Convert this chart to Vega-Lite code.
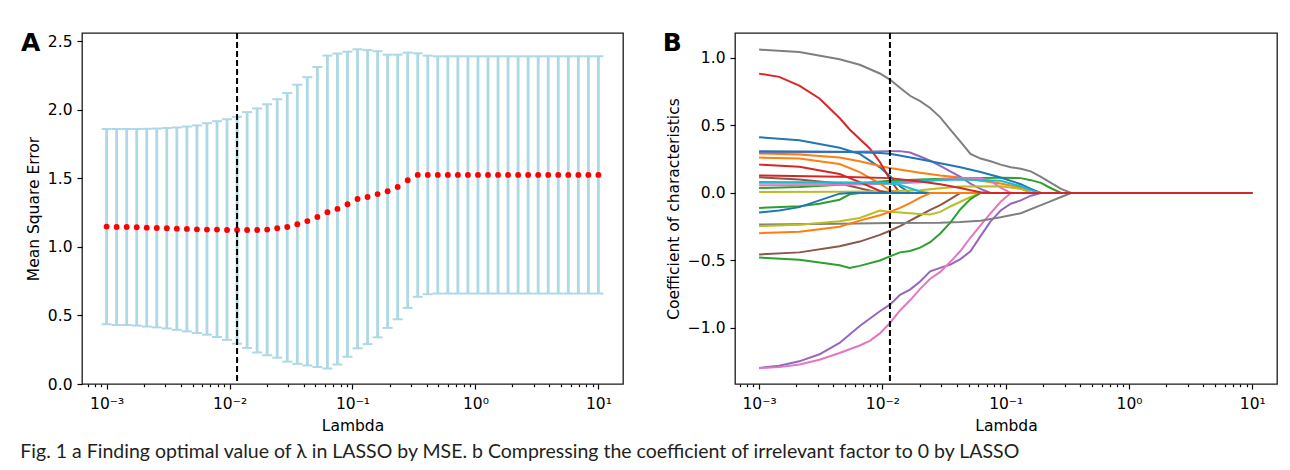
{
  "$schema": "https://vega.github.io/schema/vega-lite/v6.json",
  "background": "white",
  "padding": {"left": 20, "top": 30, "right": 5, "bottom": 5},
  "spacing": 38,
  "title": {"text": "Fig. 1  a Finding optimal value of λ in LASSO by MSE. b Compressing the coefficient of irrelevant factor to 0 by LASSO", "orient": "bottom", "anchor": "start", "frame": "bounds", "font": "Lato", "fontSize": 19.5, "fontWeight": "normal", "color": "#231f20", "offset": 8},
  "datasets": {
    "mse": [
      {"lambda": 0.001, "mse": 1.148, "lo": 0.436, "hi": 1.860},
      {"lambda": 0.0012068, "mse": 1.145, "lo": 0.430, "hi": 1.860},
      {"lambda": 0.0014563, "mse": 1.145, "lo": 0.430, "hi": 1.860},
      {"lambda": 0.0017575, "mse": 1.143, "lo": 0.426, "hi": 1.860},
      {"lambda": 0.002121, "mse": 1.140, "lo": 0.419, "hi": 1.861},
      {"lambda": 0.0025595, "mse": 1.138, "lo": 0.413, "hi": 1.863},
      {"lambda": 0.0030888, "mse": 1.136, "lo": 0.405, "hi": 1.867},
      {"lambda": 0.0037276, "mse": 1.133, "lo": 0.395, "hi": 1.871},
      {"lambda": 0.0044984, "mse": 1.131, "lo": 0.384, "hi": 1.878},
      {"lambda": 0.0054287, "mse": 1.128, "lo": 0.372, "hi": 1.886},
      {"lambda": 0.0065513, "mse": 1.126, "lo": 0.360, "hi": 1.902},
      {"lambda": 0.007906, "mse": 1.126, "lo": 0.343, "hi": 1.917},
      {"lambda": 0.009541, "mse": 1.123, "lo": 0.322, "hi": 1.931},
      {"lambda": 0.011514, "mse": 1.123, "lo": 0.294, "hi": 1.949},
      {"lambda": 0.013895, "mse": 1.123, "lo": 0.263, "hi": 1.983},
      {"lambda": 0.016768, "mse": 1.123, "lo": 0.230, "hi": 2.010},
      {"lambda": 0.020236, "mse": 1.126, "lo": 0.210, "hi": 2.040},
      {"lambda": 0.02442, "mse": 1.136, "lo": 0.192, "hi": 2.077},
      {"lambda": 0.02947, "mse": 1.145, "lo": 0.163, "hi": 2.123},
      {"lambda": 0.035565, "mse": 1.165, "lo": 0.147, "hi": 2.183},
      {"lambda": 0.042919, "mse": 1.188, "lo": 0.135, "hi": 2.238},
      {"lambda": 0.051795, "mse": 1.218, "lo": 0.124, "hi": 2.312},
      {"lambda": 0.062506, "mse": 1.253, "lo": 0.113, "hi": 2.395},
      {"lambda": 0.075431, "mse": 1.277, "lo": 0.143, "hi": 2.410},
      {"lambda": 0.09103, "mse": 1.311, "lo": 0.199, "hi": 2.424},
      {"lambda": 0.10985, "mse": 1.349, "lo": 0.260, "hi": 2.441},
      {"lambda": 0.13257, "mse": 1.364, "lo": 0.291, "hi": 2.435},
      {"lambda": 0.15999, "mse": 1.385, "lo": 0.340, "hi": 2.427},
      {"lambda": 0.19307, "mse": 1.406, "lo": 0.409, "hi": 2.402},
      {"lambda": 0.233, "mse": 1.437, "lo": 0.472, "hi": 2.402},
      {"lambda": 0.28118, "mse": 1.486, "lo": 0.555, "hi": 2.417},
      {"lambda": 0.33932, "mse": 1.525, "lo": 0.636, "hi": 2.412},
      {"lambda": 0.40949, "mse": 1.525, "lo": 0.655, "hi": 2.395},
      {"lambda": 0.49417, "mse": 1.525, "lo": 0.660, "hi": 2.390},
      {"lambda": 0.59636, "mse": 1.525, "lo": 0.660, "hi": 2.390},
      {"lambda": 0.71969, "mse": 1.525, "lo": 0.660, "hi": 2.390},
      {"lambda": 0.86851, "mse": 1.525, "lo": 0.660, "hi": 2.390},
      {"lambda": 1.0481, "mse": 1.525, "lo": 0.660, "hi": 2.390},
      {"lambda": 1.2649, "mse": 1.525, "lo": 0.660, "hi": 2.390},
      {"lambda": 1.5264, "mse": 1.525, "lo": 0.660, "hi": 2.390},
      {"lambda": 1.8421, "mse": 1.525, "lo": 0.660, "hi": 2.390},
      {"lambda": 2.223, "mse": 1.525, "lo": 0.660, "hi": 2.390},
      {"lambda": 2.6827, "mse": 1.525, "lo": 0.660, "hi": 2.390},
      {"lambda": 3.2375, "mse": 1.525, "lo": 0.660, "hi": 2.390},
      {"lambda": 3.9069, "mse": 1.525, "lo": 0.660, "hi": 2.390},
      {"lambda": 4.7149, "mse": 1.525, "lo": 0.660, "hi": 2.390},
      {"lambda": 5.6899, "mse": 1.525, "lo": 0.660, "hi": 2.390},
      {"lambda": 6.8665, "mse": 1.525, "lo": 0.660, "hi": 2.390},
      {"lambda": 8.2864, "mse": 1.525, "lo": 0.660, "hi": 2.390},
      {"lambda": 10, "mse": 1.525, "lo": 0.660, "hi": 2.390}
    ],
    "best": [{"lambda": 0.011514}],
    "coef": [
      {"f": "f00", "lambda": 0.001, "c": 0.413}, {"f": "f00", "lambda": 0.002121, "c": 0.39}, {"f": "f00", "lambda": 0.0044984, "c": 0.335}, {"f": "f00", "lambda": 0.0065513, "c": 0.29}, {"f": "f00", "lambda": 0.009541, "c": 0.19}, {"f": "f00", "lambda": 0.011514, "c": 0.125}, {"f": "f00", "lambda": 0.013895, "c": 0.05}, {"f": "f00", "lambda": 0.016768, "c": 0}, {"f": "f00", "lambda": 10, "c": 0},
      {"f": "f01", "lambda": 0.001, "c": 0.292}, {"f": "f01", "lambda": 0.002121, "c": 0.285}, {"f": "f01", "lambda": 0.0044984, "c": 0.262}, {"f": "f01", "lambda": 0.0065513, "c": 0.235}, {"f": "f01", "lambda": 0.009541, "c": 0.2}, {"f": "f01", "lambda": 0.011514, "c": 0.185}, {"f": "f01", "lambda": 0.020236, "c": 0.15}, {"f": "f01", "lambda": 0.02947, "c": 0.13}, {"f": "f01", "lambda": 0.042919, "c": 0.115}, {"f": "f01", "lambda": 0.062506, "c": 0.09}, {"f": "f01", "lambda": 0.09103, "c": 0.07}, {"f": "f01", "lambda": 0.13257, "c": 0.04}, {"f": "f01", "lambda": 0.15999, "c": 0}, {"f": "f01", "lambda": 10, "c": 0},
      {"f": "f02", "lambda": 0.001, "c": 0.037}, {"f": "f02", "lambda": 0.002121, "c": 0.045}, {"f": "f02", "lambda": 0.0044984, "c": 0.06}, {"f": "f02", "lambda": 0.011514, "c": 0.09}, {"f": "f02", "lambda": 0.020236, "c": 0.1}, {"f": "f02", "lambda": 0.042919, "c": 0.11}, {"f": "f02", "lambda": 0.09103, "c": 0.112}, {"f": "f02", "lambda": 0.13257, "c": 0.11}, {"f": "f02", "lambda": 0.15999, "c": 0.095}, {"f": "f02", "lambda": 0.19307, "c": 0.075}, {"f": "f02", "lambda": 0.233, "c": 0.035}, {"f": "f02", "lambda": 0.28118, "c": 0}, {"f": "f02", "lambda": 10, "c": 0},
      {"f": "f03", "lambda": 0.001, "c": 0.884}, {"f": "f03", "lambda": 0.0014563, "c": 0.86}, {"f": "f03", "lambda": 0.002121, "c": 0.795}, {"f": "f03", "lambda": 0.0030888, "c": 0.7}, {"f": "f03", "lambda": 0.0044984, "c": 0.555}, {"f": "f03", "lambda": 0.0054287, "c": 0.47}, {"f": "f03", "lambda": 0.0065513, "c": 0.4}, {"f": "f03", "lambda": 0.007906, "c": 0.33}, {"f": "f03", "lambda": 0.009541, "c": 0.23}, {"f": "f03", "lambda": 0.011514, "c": 0.1}, {"f": "f03", "lambda": 0.013895, "c": 0}, {"f": "f03", "lambda": 10, "c": 0},
      {"f": "f04", "lambda": 0.001, "c": 0.3}, {"f": "f04", "lambda": 0.0044984, "c": 0.303}, {"f": "f04", "lambda": 0.011514, "c": 0.31}, {"f": "f04", "lambda": 0.013895, "c": 0.31}, {"f": "f04", "lambda": 0.016768, "c": 0.3}, {"f": "f04", "lambda": 0.020236, "c": 0.27}, {"f": "f04", "lambda": 0.02442, "c": 0.24}, {"f": "f04", "lambda": 0.02947, "c": 0.2}, {"f": "f04", "lambda": 0.035565, "c": 0.16}, {"f": "f04", "lambda": 0.042919, "c": 0.12}, {"f": "f04", "lambda": 0.051795, "c": 0.07}, {"f": "f04", "lambda": 0.062506, "c": 0.03}, {"f": "f04", "lambda": 0.075431, "c": 0}, {"f": "f04", "lambda": 10, "c": 0},
      {"f": "f05", "lambda": 0.001, "c": 0.116}, {"f": "f05", "lambda": 0.002121, "c": 0.1}, {"f": "f05", "lambda": 0.0044984, "c": 0.07}, {"f": "f05", "lambda": 0.0065513, "c": 0.035}, {"f": "f05", "lambda": 0.009541, "c": 0}, {"f": "f05", "lambda": 10, "c": 0},
      {"f": "f06", "lambda": 0.001, "c": 0.057}, {"f": "f06", "lambda": 0.0044984, "c": 0.06}, {"f": "f06", "lambda": 0.011514, "c": 0.068}, {"f": "f06", "lambda": 0.020236, "c": 0.08}, {"f": "f06", "lambda": 0.02947, "c": 0.1}, {"f": "f06", "lambda": 0.042919, "c": 0.11}, {"f": "f06", "lambda": 0.062506, "c": 0.11}, {"f": "f06", "lambda": 0.075431, "c": 0.09}, {"f": "f06", "lambda": 0.09103, "c": 0.04}, {"f": "f06", "lambda": 0.10985, "c": 0}, {"f": "f06", "lambda": 10, "c": 0},
      {"f": "f07", "lambda": 0.001, "c": 1.062}, {"f": "f07", "lambda": 0.002121, "c": 1.045}, {"f": "f07", "lambda": 0.0044984, "c": 0.99}, {"f": "f07", "lambda": 0.0065513, "c": 0.95}, {"f": "f07", "lambda": 0.009541, "c": 0.885}, {"f": "f07", "lambda": 0.011514, "c": 0.84}, {"f": "f07", "lambda": 0.013895, "c": 0.78}, {"f": "f07", "lambda": 0.016768, "c": 0.72}, {"f": "f07", "lambda": 0.020236, "c": 0.68}, {"f": "f07", "lambda": 0.02442, "c": 0.63}, {"f": "f07", "lambda": 0.02947, "c": 0.56}, {"f": "f07", "lambda": 0.035565, "c": 0.47}, {"f": "f07", "lambda": 0.042919, "c": 0.38}, {"f": "f07", "lambda": 0.051795, "c": 0.29}, {"f": "f07", "lambda": 0.062506, "c": 0.255}, {"f": "f07", "lambda": 0.075431, "c": 0.235}, {"f": "f07", "lambda": 0.09103, "c": 0.21}, {"f": "f07", "lambda": 0.10985, "c": 0.19}, {"f": "f07", "lambda": 0.13257, "c": 0.18}, {"f": "f07", "lambda": 0.15999, "c": 0.16}, {"f": "f07", "lambda": 0.19307, "c": 0.12}, {"f": "f07", "lambda": 0.233, "c": 0.075}, {"f": "f07", "lambda": 0.28118, "c": 0.03}, {"f": "f07", "lambda": 0.33932, "c": 0}, {"f": "f07", "lambda": 10, "c": 0},
      {"f": "f08", "lambda": 0.001, "c": 0.008}, {"f": "f08", "lambda": 0.0044984, "c": 0.01}, {"f": "f08", "lambda": 0.011514, "c": 0.012}, {"f": "f08", "lambda": 0.020236, "c": 0.02}, {"f": "f08", "lambda": 0.02947, "c": 0.035}, {"f": "f08", "lambda": 0.042919, "c": 0.048}, {"f": "f08", "lambda": 0.09103, "c": 0.05}, {"f": "f08", "lambda": 0.13257, "c": 0.03}, {"f": "f08", "lambda": 0.15999, "c": 0}, {"f": "f08", "lambda": 10, "c": 0},
      {"f": "f09", "lambda": 0.001, "c": 0.081}, {"f": "f09", "lambda": 0.0044984, "c": 0.077}, {"f": "f09", "lambda": 0.011514, "c": 0.07}, {"f": "f09", "lambda": 0.013895, "c": 0.06}, {"f": "f09", "lambda": 0.016768, "c": 0.035}, {"f": "f09", "lambda": 0.020236, "c": 0.01}, {"f": "f09", "lambda": 0.02442, "c": 0}, {"f": "f09", "lambda": 10, "c": 0},
      {"f": "f10", "lambda": 0.001, "c": 0.309}, {"f": "f10", "lambda": 0.0044984, "c": 0.305}, {"f": "f10", "lambda": 0.009541, "c": 0.297}, {"f": "f10", "lambda": 0.011514, "c": 0.29}, {"f": "f10", "lambda": 0.020236, "c": 0.25}, {"f": "f10", "lambda": 0.02947, "c": 0.22}, {"f": "f10", "lambda": 0.042919, "c": 0.19}, {"f": "f10", "lambda": 0.062506, "c": 0.155}, {"f": "f10", "lambda": 0.09103, "c": 0.115}, {"f": "f10", "lambda": 0.13257, "c": 0.065}, {"f": "f10", "lambda": 0.15999, "c": 0.03}, {"f": "f10", "lambda": 0.19307, "c": 0}, {"f": "f10", "lambda": 10, "c": 0},
      {"f": "f11", "lambda": 0.001, "c": 0.262}, {"f": "f11", "lambda": 0.002121, "c": 0.255}, {"f": "f11", "lambda": 0.0044984, "c": 0.215}, {"f": "f11", "lambda": 0.0065513, "c": 0.155}, {"f": "f11", "lambda": 0.009541, "c": 0.07}, {"f": "f11", "lambda": 0.011514, "c": 0.02}, {"f": "f11", "lambda": 0.013895, "c": 0}, {"f": "f11", "lambda": 10, "c": 0},
      {"f": "f12", "lambda": 0.001, "c": -0.111}, {"f": "f12", "lambda": 0.002121, "c": -0.099}, {"f": "f12", "lambda": 0.0030888, "c": -0.08}, {"f": "f12", "lambda": 0.0044984, "c": -0.05}, {"f": "f12", "lambda": 0.0054287, "c": -0.01}, {"f": "f12", "lambda": 0.0065513, "c": 0}, {"f": "f12", "lambda": 10, "c": 0},
      {"f": "f13", "lambda": 0.001, "c": 0.21}, {"f": "f13", "lambda": 0.002121, "c": 0.195}, {"f": "f13", "lambda": 0.0044984, "c": 0.14}, {"f": "f13", "lambda": 0.0065513, "c": 0.08}, {"f": "f13", "lambda": 0.009541, "c": 0.015}, {"f": "f13", "lambda": 0.011514, "c": 0}, {"f": "f13", "lambda": 10, "c": 0},
      {"f": "f14", "lambda": 0.001, "c": -1.296}, {"f": "f14", "lambda": 0.0014563, "c": -1.28}, {"f": "f14", "lambda": 0.002121, "c": -1.247}, {"f": "f14", "lambda": 0.0030888, "c": -1.195}, {"f": "f14", "lambda": 0.0044984, "c": -1.111}, {"f": "f14", "lambda": 0.0065513, "c": -0.985}, {"f": "f14", "lambda": 0.009541, "c": -0.876}, {"f": "f14", "lambda": 0.011514, "c": -0.827}, {"f": "f14", "lambda": 0.013895, "c": -0.755}, {"f": "f14", "lambda": 0.016768, "c": -0.716}, {"f": "f14", "lambda": 0.020236, "c": -0.655}, {"f": "f14", "lambda": 0.02442, "c": -0.58}, {"f": "f14", "lambda": 0.02947, "c": -0.555}, {"f": "f14", "lambda": 0.035565, "c": -0.53}, {"f": "f14", "lambda": 0.042919, "c": -0.49}, {"f": "f14", "lambda": 0.051795, "c": -0.432}, {"f": "f14", "lambda": 0.062506, "c": -0.32}, {"f": "f14", "lambda": 0.075431, "c": -0.21}, {"f": "f14", "lambda": 0.09103, "c": -0.13}, {"f": "f14", "lambda": 0.10985, "c": -0.08}, {"f": "f14", "lambda": 0.13257, "c": -0.055}, {"f": "f14", "lambda": 0.15999, "c": -0.02}, {"f": "f14", "lambda": 0.19307, "c": 0}, {"f": "f14", "lambda": 10, "c": 0},
      {"f": "f15", "lambda": 0.001, "c": -0.455}, {"f": "f15", "lambda": 0.002121, "c": -0.44}, {"f": "f15", "lambda": 0.0044984, "c": -0.395}, {"f": "f15", "lambda": 0.0065513, "c": -0.36}, {"f": "f15", "lambda": 0.009541, "c": -0.31}, {"f": "f15", "lambda": 0.011514, "c": -0.28}, {"f": "f15", "lambda": 0.013895, "c": -0.245}, {"f": "f15", "lambda": 0.016768, "c": -0.205}, {"f": "f15", "lambda": 0.020236, "c": -0.165}, {"f": "f15", "lambda": 0.02442, "c": -0.125}, {"f": "f15", "lambda": 0.02947, "c": -0.09}, {"f": "f15", "lambda": 0.035565, "c": -0.045}, {"f": "f15", "lambda": 0.042919, "c": 0}, {"f": "f15", "lambda": 10, "c": 0},
      {"f": "f16", "lambda": 0.001, "c": -1.298}, {"f": "f16", "lambda": 0.0014563, "c": -1.29}, {"f": "f16", "lambda": 0.002121, "c": -1.271}, {"f": "f16", "lambda": 0.0030888, "c": -1.235}, {"f": "f16", "lambda": 0.0044984, "c": -1.185}, {"f": "f16", "lambda": 0.0065513, "c": -1.13}, {"f": "f16", "lambda": 0.007906, "c": -1.095}, {"f": "f16", "lambda": 0.009541, "c": -1.04}, {"f": "f16", "lambda": 0.011514, "c": -0.963}, {"f": "f16", "lambda": 0.013895, "c": -0.87}, {"f": "f16", "lambda": 0.016768, "c": -0.795}, {"f": "f16", "lambda": 0.020236, "c": -0.71}, {"f": "f16", "lambda": 0.02442, "c": -0.635}, {"f": "f16", "lambda": 0.02947, "c": -0.585}, {"f": "f16", "lambda": 0.035565, "c": -0.51}, {"f": "f16", "lambda": 0.042919, "c": -0.43}, {"f": "f16", "lambda": 0.051795, "c": -0.33}, {"f": "f16", "lambda": 0.062506, "c": -0.24}, {"f": "f16", "lambda": 0.075431, "c": -0.15}, {"f": "f16", "lambda": 0.09103, "c": -0.065}, {"f": "f16", "lambda": 0.10985, "c": 0}, {"f": "f16", "lambda": 10, "c": 0},
      {"f": "f17", "lambda": 0.001, "c": -0.234}, {"f": "f17", "lambda": 0.0044984, "c": -0.228}, {"f": "f17", "lambda": 0.011514, "c": -0.222}, {"f": "f17", "lambda": 0.02947, "c": -0.22}, {"f": "f17", "lambda": 0.042919, "c": -0.215}, {"f": "f17", "lambda": 0.062506, "c": -0.205}, {"f": "f17", "lambda": 0.09103, "c": -0.18}, {"f": "f17", "lambda": 0.13257, "c": -0.15}, {"f": "f17", "lambda": 0.19307, "c": -0.09}, {"f": "f17", "lambda": 0.233, "c": -0.06}, {"f": "f17", "lambda": 0.28118, "c": -0.03}, {"f": "f17", "lambda": 0.33932, "c": 0}, {"f": "f17", "lambda": 10, "c": 0},
      {"f": "f18", "lambda": 0.001, "c": -0.245}, {"f": "f18", "lambda": 0.002121, "c": -0.235}, {"f": "f18", "lambda": 0.0044984, "c": -0.21}, {"f": "f18", "lambda": 0.0065513, "c": -0.185}, {"f": "f18", "lambda": 0.009541, "c": -0.13}, {"f": "f18", "lambda": 0.011514, "c": -0.14}, {"f": "f18", "lambda": 0.013895, "c": -0.145}, {"f": "f18", "lambda": 0.016768, "c": -0.15}, {"f": "f18", "lambda": 0.020236, "c": -0.155}, {"f": "f18", "lambda": 0.02442, "c": -0.16}, {"f": "f18", "lambda": 0.02947, "c": -0.14}, {"f": "f18", "lambda": 0.035565, "c": -0.1}, {"f": "f18", "lambda": 0.042919, "c": -0.065}, {"f": "f18", "lambda": 0.051795, "c": -0.03}, {"f": "f18", "lambda": 0.062506, "c": 0}, {"f": "f18", "lambda": 10, "c": 0},
      {"f": "f19", "lambda": 0.001, "c": 0.075}, {"f": "f19", "lambda": 0.0044984, "c": 0.075}, {"f": "f19", "lambda": 0.011514, "c": 0.08}, {"f": "f19", "lambda": 0.020236, "c": 0.09}, {"f": "f19", "lambda": 0.042919, "c": 0.1}, {"f": "f19", "lambda": 0.09103, "c": 0.09}, {"f": "f19", "lambda": 0.13257, "c": 0.05}, {"f": "f19", "lambda": 0.15999, "c": 0.02}, {"f": "f19", "lambda": 0.19307, "c": 0}, {"f": "f19", "lambda": 10, "c": 0},
      {"f": "f20", "lambda": 0.001, "c": -0.145}, {"f": "f20", "lambda": 0.0014563, "c": -0.13}, {"f": "f20", "lambda": 0.002121, "c": -0.105}, {"f": "f20", "lambda": 0.0030888, "c": -0.055}, {"f": "f20", "lambda": 0.0044984, "c": -0.005}, {"f": "f20", "lambda": 0.0054287, "c": 0}, {"f": "f20", "lambda": 10, "c": 0},
      {"f": "f21", "lambda": 0.001, "c": -0.298}, {"f": "f21", "lambda": 0.002121, "c": -0.288}, {"f": "f21", "lambda": 0.0044984, "c": -0.25}, {"f": "f21", "lambda": 0.0065513, "c": -0.205}, {"f": "f21", "lambda": 0.009541, "c": -0.165}, {"f": "f21", "lambda": 0.011514, "c": -0.14}, {"f": "f21", "lambda": 0.013895, "c": -0.11}, {"f": "f21", "lambda": 0.016768, "c": -0.075}, {"f": "f21", "lambda": 0.020236, "c": -0.035}, {"f": "f21", "lambda": 0.02442, "c": 0}, {"f": "f21", "lambda": 10, "c": 0},
      {"f": "f22", "lambda": 0.001, "c": -0.478}, {"f": "f22", "lambda": 0.002121, "c": -0.495}, {"f": "f22", "lambda": 0.0044984, "c": -0.535}, {"f": "f22", "lambda": 0.0054287, "c": -0.555}, {"f": "f22", "lambda": 0.0065513, "c": -0.54}, {"f": "f22", "lambda": 0.009541, "c": -0.5}, {"f": "f22", "lambda": 0.011514, "c": -0.47}, {"f": "f22", "lambda": 0.013895, "c": -0.44}, {"f": "f22", "lambda": 0.016768, "c": -0.43}, {"f": "f22", "lambda": 0.020236, "c": -0.405}, {"f": "f22", "lambda": 0.02442, "c": -0.365}, {"f": "f22", "lambda": 0.02947, "c": -0.3}, {"f": "f22", "lambda": 0.035565, "c": -0.22}, {"f": "f22", "lambda": 0.042919, "c": -0.12}, {"f": "f22", "lambda": 0.051795, "c": -0.045}, {"f": "f22", "lambda": 0.062506, "c": 0}, {"f": "f22", "lambda": 10, "c": 0},
      {"f": "f23", "lambda": 0.001, "c": 0.13}, {"f": "f23", "lambda": 0.0044984, "c": 0.12}, {"f": "f23", "lambda": 0.011514, "c": 0.11}, {"f": "f23", "lambda": 0.020236, "c": 0.085}, {"f": "f23", "lambda": 0.02947, "c": 0.065}, {"f": "f23", "lambda": 0.042919, "c": 0.037}, {"f": "f23", "lambda": 0.051795, "c": 0.02}, {"f": "f23", "lambda": 0.062506, "c": 0.005}, {"f": "f23", "lambda": 0.075431, "c": 0}, {"f": "f23", "lambda": 10, "c": 0}
    ],
    "labelA": [{"label": "A"}],
    "labelB": [{"label": "B"}]
  },
  "hconcat": [
    {
      "width": 541,
      "height": 351,
      "layer": [
        {
          "data": {"name": "mse"},
          "mark": {"type": "rule", "color": "#add8e6", "strokeWidth": 2.8},
          "encoding": {
            "x": {
              "field": "lambda", "type": "quantitative",
              "scale": {"type": "log", "domain": [0.000631, 15.85], "nice": false},
              "axis": {
                "title": "Lambda",
                "values": [0.0007, 0.0008, 0.0009, 0.001, 0.002, 0.003, 0.004, 0.005, 0.006, 0.007, 0.008, 0.009, 0.01, 0.02, 0.03, 0.04, 0.05, 0.06, 0.07, 0.08, 0.09, 0.1, 0.2, 0.3, 0.4, 0.5, 0.6, 0.7, 0.8, 0.9, 1, 2, 3, 4, 5, 6, 7, 8, 9, 10],
                "labelExpr": "abs(log(datum.value)/LN10 - round(log(datum.value)/LN10)) > 0.01 ? '' : (datum.value < 0.005 ? '10⁻³' : datum.value < 0.05 ? '10⁻²' : datum.value < 0.5 ? '10⁻¹' : datum.value < 5 ? '10⁰' : '10¹')",
                "tickSize": {"condition": {"test": "abs(log(datum.value)/LN10 - round(log(datum.value)/LN10)) < 0.01", "value": 5}, "value": 2.7},
                "labelPadding": 7,
                "titlePadding": 7
              }
            },
            "y": {"field": "lo", "type": "quantitative", "scale": {"domain": [0, 2.56], "nice": false, "zero": false}, "axis": {"title": "Mean Square Error", "values": [0, 0.5, 1, 1.5, 2, 2.5], "format": ".1f", "labelPadding": 5, "titlePadding": 6}},
            "y2": {"field": "hi"}
          }
        },
        {
          "data": {"name": "mse"},
          "mark": {"type": "tick", "orient": "horizontal", "color": "#add8e6", "size": 10, "thickness": 2, "opacity": 1},
          "encoding": {
            "x": {"field": "lambda", "type": "quantitative", "title": "Lambda"},
            "y": {"field": "hi", "type": "quantitative", "title": "Mean Square Error"}
          }
        },
        {
          "data": {"name": "mse"},
          "mark": {"type": "tick", "orient": "horizontal", "color": "#add8e6", "size": 10, "thickness": 2, "opacity": 1},
          "encoding": {
            "x": {"field": "lambda", "type": "quantitative", "title": "Lambda"},
            "y": {"field": "lo", "type": "quantitative", "title": "Mean Square Error"}
          }
        },
        {
          "data": {"name": "mse"},
          "mark": {"type": "circle", "color": "#ff0000", "size": 34, "opacity": 1},
          "encoding": {
            "x": {"field": "lambda", "type": "quantitative", "title": "Lambda"},
            "y": {"field": "mse", "type": "quantitative", "title": "Mean Square Error"}
          }
        },
        {
          "data": {"name": "best"},
          "mark": {"type": "rule", "color": "#000", "strokeWidth": 2, "strokeDash": [6, 3]},
          "encoding": {"x": {"field": "lambda", "type": "quantitative", "title": "Lambda"}}
        },
        {
          "data": {"name": "labelA"},
          "mark": {"type": "text", "font": "DejaVu Sans", "fontSize": 25, "fontWeight": "bold", "color": "#000", "align": "left", "baseline": "alphabetic", "clip": false},
          "encoding": {
            "x": {"datum": 0.0002014, "type": "quantitative"},
            "y": {"datum": 2.427, "type": "quantitative"},
            "text": {"field": "label"}
          }
        }
      ]
    },
    {
      "width": 542,
      "height": 351,
      "layer": [
        {
          "data": {"name": "coef"},
          "mark": {"type": "line", "strokeWidth": 2, "interpolate": "linear"},
          "encoding": {
            "x": {
              "field": "lambda", "type": "quantitative",
              "scale": {"type": "log", "domain": [0.000638, 15.85], "nice": false},
              "axis": {
                "title": "Lambda",
                "values": [0.0007, 0.0008, 0.0009, 0.001, 0.002, 0.003, 0.004, 0.005, 0.006, 0.007, 0.008, 0.009, 0.01, 0.02, 0.03, 0.04, 0.05, 0.06, 0.07, 0.08, 0.09, 0.1, 0.2, 0.3, 0.4, 0.5, 0.6, 0.7, 0.8, 0.9, 1, 2, 3, 4, 5, 6, 7, 8, 9, 10],
                "labelExpr": "abs(log(datum.value)/LN10 - round(log(datum.value)/LN10)) > 0.01 ? '' : (datum.value < 0.005 ? '10⁻³' : datum.value < 0.05 ? '10⁻²' : datum.value < 0.5 ? '10⁻¹' : datum.value < 5 ? '10⁰' : '10¹')",
                "tickSize": {"condition": {"test": "abs(log(datum.value)/LN10 - round(log(datum.value)/LN10)) < 0.01", "value": 5}, "value": 2.7},
                "labelPadding": 7,
                "titlePadding": 7
              }
            },
            "y": {"field": "c", "type": "quantitative", "scale": {"domain": [-1.415, 1.185], "nice": false, "zero": false}, "axis": {"title": "Coefficient of characteristics", "values": [-1, -0.5, 0, 0.5, 1], "format": ".1f", "labelPadding": 5, "titlePadding": 6}},
            "color": {
              "field": "f", "type": "nominal", "legend": null,
              "scale": {
                "domain": ["f00", "f01", "f02", "f03", "f04", "f05", "f06", "f07", "f08", "f09", "f10", "f11", "f12", "f13", "f14", "f15", "f16", "f17", "f18", "f19", "f20", "f21", "f22", "f23"],
                "range": ["#1f77b4", "#ff7f0e", "#2ca02c", "#d62728", "#9467bd", "#8c564b", "#e377c2", "#7f7f7f", "#bcbd22", "#17becf", "#1f77b4", "#ff7f0e", "#2ca02c", "#d62728", "#9467bd", "#8c564b", "#e377c2", "#7f7f7f", "#bcbd22", "#17becf", "#1f77b4", "#ff7f0e", "#2ca02c", "#d62728"]
              }
            }
          }
        },
        {
          "data": {"name": "best"},
          "mark": {"type": "rule", "color": "#000", "strokeWidth": 2, "strokeDash": [6, 3]},
          "encoding": {"x": {"field": "lambda", "type": "quantitative", "title": "Lambda"}}
        },
        {
          "data": {"name": "labelB"},
          "mark": {"type": "text", "font": "DejaVu Sans", "fontSize": 25, "fontWeight": "bold", "color": "#000", "align": "left", "baseline": "alphabetic", "clip": false},
          "encoding": {
            "x": {"datum": 0.0001656, "type": "quantitative"},
            "y": {"datum": 1.0496, "type": "quantitative"},
            "text": {"field": "label"}
          }
        }
      ]
    }
  ],
  "config": {
    "font": "DejaVu Sans",
    "view": {"stroke": "#1a1a1a", "strokeWidth": 1.3},
    "axis": {
      "grid": false,
      "domain": false,
      "labelFont": "DejaVu Sans",
      "labelFontSize": 15.5,
      "labelColor": "#000",
      "titleFont": "DejaVu Sans",
      "titleFontSize": 15.5,
      "titleFontWeight": "normal",
      "titleColor": "#000",
      "tickColor": "#000",
      "tickWidth": 1.2,
      "tickSize": 5,
      "labelOverlap": false,
      "labelFlush": false
    }
  }
}
